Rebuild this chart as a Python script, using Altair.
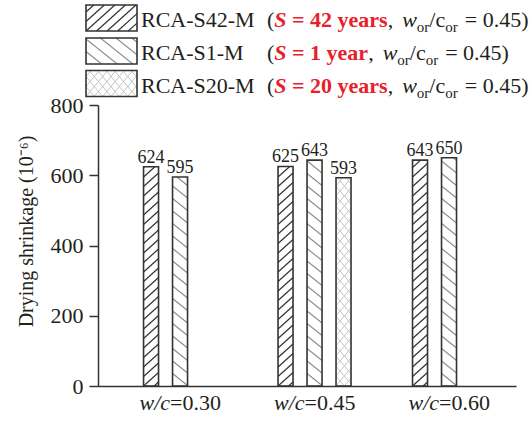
import math
import altair as alt
import pandas as pd

# ---------------- data ----------------
ratios = ["0.30", "0.45", "0.60"]
series = ["RCA-S42-M", "RCA-S1-M", "RCA-S20-M"]
ages = ["42 years", "1 year", "20 years"]
shrink_s42 = [624, 625, 643]
shrink_s1 = [595, 643, 650]
shrink_s20 = [None, 593, None]

# ---------------- layout ----------------
W, H = 418, 281
PAD = {"left": 98, "top": 105, "right": 16, "bottom": 37}
Y_MAX = 800
X_DOMAIN = (-0.61, 2.498)
PXU = W / (X_DOMAIN[1] - X_DOMAIN[0])   # pixels per x unit
PYU = H / Y_MAX                          # pixels per y unit
SLOT_PX = 29
BAR_PX = 15
FONT = "Liberation Serif"
INK = "#231f20"
RED = "#e8202a"

HATCH = {
    "RCA-S42-M": dict(kind="/", slope=0.9, gap=9.5, color="#333333", width=1.2),
    "RCA-S1-M": dict(kind="\\", slope=0.8, gap=12.5, color="#8c8c8c", width=1.1),
    "RCA-S20-M": dict(kind="x", slope=1.2, gap=10.0, color="#c4c4c4", width=1.0),
}


def to_x(px):
    """pixel offset from plot left -> x data units"""
    return X_DOMAIN[0] + px / PXU


def to_y(py):
    """pixel offset up from plot bottom -> y data units"""
    return py / PYU


def hatch_lines(x0, y0, w, h, kind, slope, gap):
    segs = []
    if kind in ("/", "x"):
        for k in range(math.floor(-slope * w / gap) - 1, math.ceil(h / gap) + 1):
            c = k * gap
            xa = max(0.0, -c / slope)
            xb = min(w, (h - c) / slope)
            if xb - xa > 0.3:
                segs.append((x0 + xa, y0 + slope * xa + c, x0 + xb, y0 + slope * xb + c))
    if kind in ("\\", "x"):
        for k in range(0, math.ceil((h + slope * w) / gap) + 1):
            c = k * gap
            xa = max(0.0, (c - h) / slope)
            xb = min(w, c / slope)
            if xb - xa > 0.3:
                segs.append((x0 + xa, y0 + c - slope * xa, x0 + xb, y0 + c - slope * xb))
    return segs


# ---------------- bars ----------------
bar_rows, hatch_rows = [], []
for s_i, (name, vals) in enumerate(zip(series, [shrink_s42, shrink_s1, shrink_s20])):
    st = HATCH[name]
    for g, v in enumerate(vals):
        if v is None:
            continue
        center = g + (s_i - 1) * SLOT_PX / PXU
        xl = center - BAR_PX / 2 / PXU
        xr = center + BAR_PX / 2 / PXU
        bar_rows.append(dict(series=name, ratio=ratios[g], center=center, xl=xl, xr=xr,
                             y0=0, value=v, label=str(v)))
        left_px = (xl - X_DOMAIN[0]) * PXU
        for (a, b, c, d) in hatch_lines(left_px, 0, BAR_PX, v * PYU, st["kind"], st["slope"], st["gap"]):
            hatch_rows.append(dict(series=name, x1=to_x(a), y1=to_y(b), x2=to_x(c), y2=to_y(d)))

bars = pd.DataFrame(bar_rows)

# ---------------- legend (screen pixels converted to data units) ----------------
BOX_L, BOX_R = 86, 137
baselines = [27, 60, 92.5]
REG = {" ": .25, "(": .333, ")": .333, ",": .25, ".": .25, "/": .278, "=": .564, "-": .333,
       "A": .722, "C": .667, "M": .889, "R": .667, "S": .556, "c": .444, "o": .5, "r": .333,
       "w": .722, "y": .5, "e": .444, "a": .444, "s": .389}
BOLD = {" ": .25, "=": .57, "y": .5, "e": .444, "a": .5, "r": .444, "s": .389}


def tw(text, table, size):
    return sum(table.get(ch, .5) for ch in text) * size


box_rows, text_rows = [], []
for i, (name, age, base) in enumerate(zip(series, ages, baselines)):
    top, bottom = base - 22, base + 4
    bx0, bx1 = BOX_L - PAD["left"], BOX_R - PAD["left"]
    by0, by1 = (PAD["top"] + H) - bottom, (PAD["top"] + H) - top
    box_rows.append(dict(series=name, xl=to_x(bx0), xr=to_x(bx1), y0=to_y(by0), value=to_y(by1)))
    st = HATCH[name]
    for (a, b, c, d) in hatch_lines(bx0, by0, bx1 - bx0, by1 - by0, st["kind"], st["slope"], st["gap"]):
        hatch_rows.append(dict(series=name, x1=to_x(a), y1=to_y(b), x2=to_x(c), y2=to_y(d)))

    def put(text, style, sx, dy=0.0):
        text_rows.append(dict(text=text, style=style,
                              x=to_x(sx - PAD["left"]),
                              y=to_y((PAD["top"] + H) - (base + dy))))

    put(name, "plain", 141)
    x = 267
    put("(", "plain", x); x += tw("(", REG, 22)
    put("S", "redbi", x); x += .556 * 22 + .25 * 22
    bold = "= " + age
    put(bold, "redb", x); x += tw(bold, BOLD, 22)
    put(",", "plain", x); x += tw(",", REG, 22) + 9
    put("w", "ital", x); x += .667 * 22
    put("or", "sub", x, 5); x += .833 * 15
    put("/c", "plain", x); x += tw("/c", REG, 22)
    put("or", "sub", x, 5); x += .833 * 15 + 7
    put("= 0.45)", "plain", x)

hatches = pd.DataFrame(hatch_rows)
boxes = pd.DataFrame(box_rows)
legend_text = pd.DataFrame(text_rows)

# x-axis group labels: italic "w/c" followed by upright "=value"
group_labels = pd.DataFrame(dict(g=[0, 1, 2], ratio=["=" + r for r in ratios]))
group_labels["x"] = group_labels["g"] - 10 / PXU
group_labels["y"] = to_y(-24)

# ---------------- chart ----------------
XS = alt.Scale(domain=list(X_DOMAIN), nice=False, zero=False)
YS = alt.Scale(domain=[0, Y_MAX], nice=False, zero=False)

x_axis = alt.Axis(ticks=False, labels=False, grid=False, title=None,
                  domainColor="#333333", domainWidth=1.5)
y_axis = alt.Axis(values=[0, 200, 400, 600, 800], grid=False, tickSize=9, tickWidth=1.5,
                  tickColor="#333333", domainColor="#333333", domainWidth=1.5,
                  labelFont=FONT, labelFontSize=22, labelColor=INK, labelPadding=6,
                  title="Drying shrinkage (10⁻⁶)", titleFont=FONT, titleFontSize=20,
                  titleFontWeight="normal", titleColor=INK, titleAngle=270,
                  titleAlign="center", titleBaseline="alphabetic", titleX=-66, titleY=126)

base_axes = alt.Chart(bars).mark_rect(fillOpacity=0, strokeOpacity=0).encode(
    x=alt.X("xl:Q", scale=XS, axis=x_axis),
    x2="xr:Q",
    y=alt.Y("y0:Q", scale=YS, axis=y_axis),
    y2="value:Q",
)

hatch_layers = []
for name in series:
    st = HATCH[name]
    hatch_layers.append(
        alt.Chart(hatches).transform_filter(alt.datum.series == name)
        .mark_rule(color=st["color"], strokeWidth=st["width"])
        .encode(x=alt.X("x1:Q", scale=XS), y=alt.Y("y1:Q", scale=YS), x2="x2:Q", y2="y2:Q")
    )

outline = alt.Chart(bars).mark_rect(fillOpacity=0, stroke="#333333", strokeWidth=1.6).encode(
    x=alt.X("xl:Q", scale=XS), x2="xr:Q", y=alt.Y("y0:Q", scale=YS), y2="value:Q")

legend_boxes = alt.Chart(boxes).mark_rect(fillOpacity=0, stroke="#333333", strokeWidth=1.6).encode(
    x=alt.X("xl:Q", scale=XS), x2="xr:Q", y=alt.Y("y0:Q", scale=YS), y2="value:Q")

value_labels = alt.Chart(bars).mark_text(font=FONT, fontSize=18, color=INK, dy=-4,
                                         baseline="alphabetic", align="center").encode(
    x=alt.X("center:Q", scale=XS), y=alt.Y("value:Q", scale=YS), text="label:N")

TEXT_STYLES = {
    "plain": dict(fontSize=22, color=INK),
    "ital": dict(fontSize=22, color=INK, fontStyle="italic"),
    "redbi": dict(fontSize=22, color=RED, fontStyle="italic", fontWeight="bold"),
    "redb": dict(fontSize=22, color=RED, fontWeight="bold"),
    "sub": dict(fontSize=15, color=INK),
}
legend_layers = []
for style, kw in TEXT_STYLES.items():
    legend_layers.append(
        alt.Chart(legend_text).transform_filter(alt.datum.style == style)
        .mark_text(font=FONT, align="left", baseline="alphabetic", **kw)
        .encode(x=alt.X("x:Q", scale=XS), y=alt.Y("y:Q", scale=YS), text="text:N")
    )

wc_italic = alt.Chart(group_labels).mark_text(
    font=FONT, fontSize=22, fontStyle="italic", color=INK, align="right", baseline="alphabetic"
).encode(x=alt.X("x:Q", scale=XS), y=alt.Y("y:Q", scale=YS), text=alt.value("w/c"))

wc_value = alt.Chart(group_labels).mark_text(
    font=FONT, fontSize=22, color=INK, align="left", baseline="alphabetic"
).encode(x=alt.X("x:Q", scale=XS), y=alt.Y("y:Q", scale=YS), text="ratio:N")

chart = alt.layer(
    base_axes, *hatch_layers, outline, legend_boxes, value_labels, *legend_layers,
    wc_italic, wc_value,
).properties(
    width=W, height=H, padding=PAD, autosize=alt.AutoSizeParams(type="none"),
    background="white",
).configure_view(stroke=None)

chart.save("out.html", embed_options={"renderer": "svg", "actions": False})
